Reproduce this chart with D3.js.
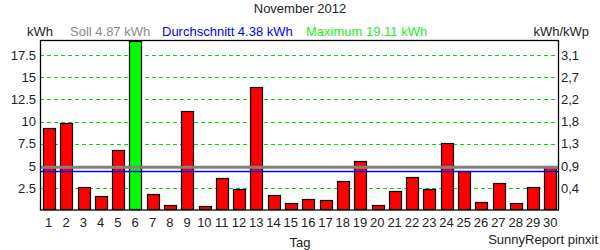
<!DOCTYPE html>
<html><head><meta charset="utf-8">
<script src="https://cdn.jsdelivr.net/npm/d3@7"></script>
<style>body{margin:0;background:#fff}svg{display:block}text{font-family:"Liberation Sans",Arial,sans-serif;font-size:13px}</style>
</head><body>
<script>
const days = d3.range(1,31).map(String);
const energy = [9.27,9.86,2.65,1.63,6.82,19.11,1.86,0.62,11.24,0.5,3.66,2.42,13.92,1.75,0.85,1.3,1.18,3.33,5.58,0.62,2.2,3.78,2.42,7.61,4.45,0.96,3.1,0.85,2.65,4.9];
const leftTicks = [2.5,5,7.5,10,12.5,15,17.5];
const leftTickLabels = ["2.5","5","7.5","10","12.5","15","17.5"];
const rightTickLabels = ["0,4","0,9","1,3","1,8","2,2","2,7","3,1"];
const soll = 4.87, avg = 4.38, maxVal = 19.11;

const W=600,H=250, L=40,R=559,T=40,B=209.5;
const svg=d3.select("body").append("svg").attr("width",W).attr("height",H);
const x=d3.scaleBand().domain(days).range([L,R]).paddingInner(0.33).paddingOuter(0.17);
const y=d3.scaleLinear().domain([0,19.2]).range([B+1,T]);

// grid
svg.append("g").selectAll("line").data(leftTicks).join("line")
  .attr("x1",L).attr("x2",R).attr("y1",d=>Math.round(y(d))+0.5).attr("y2",d=>Math.round(y(d))+0.5)
  .attr("stroke","#00dd00").attr("stroke-width",1).attr("stroke-dasharray","4,3");

// bars
svg.append("g").selectAll("rect").data(energy).join("rect")
  .attr("x",(d,i)=>Math.round(x(days[i]))+0.5).attr("width",Math.round(x.bandwidth()))
  .attr("y",d=>Math.round(y(d))+0.5).attr("height",d=>Math.max(0,B-Math.round(y(d))-0.5))
  .attr("fill",d=>d===maxVal?"#00ff00":"#ff0000").attr("stroke","#000").attr("stroke-width",1.2);

// soll & average lines
svg.append("line").attr("x1",L).attr("x2",R).attr("y1",y(soll)).attr("y2",y(soll)).attr("stroke","#808080").attr("stroke-width",3);
svg.append("line").attr("x1",L).attr("x2",R).attr("y1",y(avg)).attr("y2",y(avg)).attr("stroke","#0000ff").attr("stroke-width",1.5);

// frame
svg.append("rect").attr("x",L+0.5).attr("y",T+0.5).attr("width",R-L-1).attr("height",B-T).attr("fill","none").attr("stroke","#000").attr("stroke-width",1.3);

// left labels
svg.append("g").selectAll("text").data(leftTicks).join("text")
  .attr("x",36).attr("y",d=>y(d)+4.5).attr("text-anchor","end").attr("fill","#222").text((d,i)=>leftTickLabels[i]);
// right labels
svg.append("g").selectAll("text").data(leftTicks).join("text")
  .attr("x",561).attr("y",d=>y(d)+4.5).attr("text-anchor","start").attr("fill","#222").text((d,i)=>rightTickLabels[i]);
// x labels
svg.append("g").selectAll("text").data(days).join("text")
  .attr("x",d=>x(d)+x.bandwidth()/2).attr("y",227).attr("text-anchor","middle").attr("fill","#222").text(d=>d);

svg.append("text").attr("x",300).attr("y",13).attr("text-anchor","middle").attr("fill","#222").text("November 2012");
svg.append("text").attr("x",27).attr("y",36).attr("fill","#222").text("kWh");
svg.append("text").attr("x",70).attr("y",36).attr("fill","#8c8c8c").text("Soll "+soll.toFixed(2)+" kWh");
svg.append("text").attr("x",162).attr("y",36).attr("fill","#0000ff").text("Durchschnitt "+avg.toFixed(2)+" kWh");
svg.append("text").attr("x",306).attr("y",36).attr("fill","#22ee22").text("Maximum "+maxVal.toFixed(2)+" kWh");
svg.append("text").attr("x",589).attr("y",36).attr("text-anchor","end").attr("fill","#222").text("kWh/kWp");
svg.append("text").attr("x",300).attr("y",247).attr("text-anchor","middle").attr("fill","#222").text("Tag");
svg.append("text").attr("x",598).attr("y",244).attr("text-anchor","end").attr("fill","#222").attr("font-size","12px").text("SunnyReport pinxit");
</script>
</body></html>
